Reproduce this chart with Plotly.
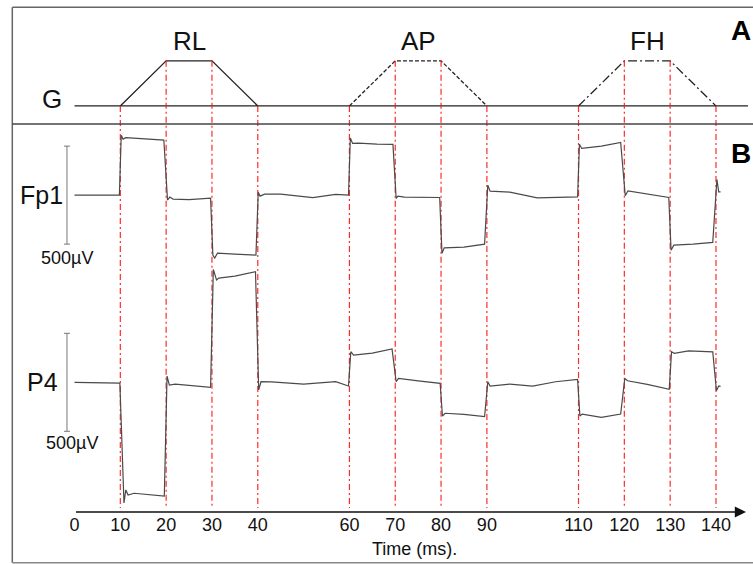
import plotly.graph_objects as go

# ---------------- data ----------------
TICK_VALUES = [0, 10, 20, 30, 40, 60, 70, 80, 90, 110, 120, 130, 140]
TICK_LABELS = ["0", "10", "20", "30", "40", "60", "70", "80", "90", "110", "120", "130", "140"]
AXIS_TITLE = "Time (ms)."

STIM_NAMES = ["RL", "AP", "FH"]
STIM_RAMP_START = [10, 60, 110]
STIM_PLATEAU_START = [20, 70, 120]
STIM_PLATEAU_END = [30, 80, 130]
STIM_RAMP_END = [40, 90, 140]
G_LINE_SPAN = [0, 147]

FP1_T = [0, 9.8, 10.2, 10.6, 11.2, 15, 19.5, 20.3, 20.8, 21.5, 25, 29.7, 30.2, 30.6, 31.2, 35, 39.6,
         40.1, 40.5, 41.5, 45, 52, 57, 59.8, 60.2, 60.7, 62, 66, 69.5, 70.2, 70.6, 72, 79.7, 80.2, 80.7,
         85, 89.5, 90.2, 90.7, 95, 101, 109.8, 110.2, 110.7, 115, 119.2, 120.2, 120.8, 125, 129.7, 130.2,
         130.8, 135, 139.3, 140.2, 140.6, 141]
FP1_UV = [0, 0, 306, 286, 293, 286, 281, -25, -10, -20, -23, -15, -306, -321, -296, -301, -306,
          15, -5, 5, 5, -13, 4, 0, 291, 264, 265, 260, 259, -17, -5, -10, -12, -296, -269,
          -265, -250, 51, 20, 15, -14, -9, 260, 238, 250, 269, -3, 22, 5, -12, -281,
          -255, -250, -241, 80, 17, 17]

P4_T = [0, 9.9, 10.8, 11.2, 11.7, 13, 19.6, 20.2, 20.7, 22, 29.7, 30.3, 31, 31.5, 35, 39.5, 40.2, 40.7,
        43, 50, 57, 59.8, 60.3, 60.9, 65, 69.3, 70.2, 70.7, 75, 79.8, 80.3, 80.9, 85, 89.5, 90.2, 90.7,
        95, 100, 105, 109.8, 110.3, 110.8, 115, 119.2, 120.1, 120.7, 125, 129.8, 130.3, 130.9, 134,
        139.3, 140.1, 140.6, 141]
P4_UV = [0, -4, -616, -549, -575, -566, -580, 32, -14, -9, -26, 576, 522, 532, 542, 564, -39, 3,
         2, -9, 3, -19, 156, 139, 149, 170, 3, 20, 7, -5, -172, -158, -164, -175, 3, -19,
         -9, -19, 3, 15, -172, -162, -179, -162, 20, 8, -11, -36, 156, 148, 160,
         155, -43, -19, -21]

SCALE_BAR_UV = 500
CHANNELS = ["Fp1", "P4"]

# ---------------- layout constants ----------------
W, H = 753, 564
ML, MR, MT, MB = 12, 0, 7, 52
X_RANGE = [-13.64, 148.08]
Y_RANGE = [-661.7, 1914.8]
FP1_OFFSET = 955
P4_OFFSET = 0
G_BASE = 1410
G_HEIGHT = 230
RED_BOTTOM = -641

FONT = "Liberation Sans, Arial, sans-serif"
TRACE_COLOR = "#4a4a4a"
LINE_COLOR = "#222222"

plot_w = W - ML - MR
plot_h = H - MT - MB


def pxx(p):
    return (p - ML) / plot_w


def pxy(p):
    return 1 - (p - MT) / plot_h


fig = go.Figure()

# G baseline
fig.add_trace(go.Scatter(x=G_LINE_SPAN, y=[G_BASE, G_BASE], mode="lines",
                         line=dict(color=LINE_COLOR, width=1.3), hoverinfo="skip"))

dashes = ["solid", "4px,2px", "9px,3px,2px,3px"]
red_x, red_y = [], []
for i, name in enumerate(STIM_NAMES):
    xs = [STIM_RAMP_START[i], STIM_PLATEAU_START[i], STIM_PLATEAU_END[i], STIM_RAMP_END[i]]
    lv = [0, 1, 1, 0]
    ys = [G_BASE + G_HEIGHT * v for v in lv]
    fig.add_trace(go.Scatter(x=xs, y=ys, mode="lines",
                             line=dict(color=LINE_COLOR, width=1.3, dash=dashes[i]),
                             hoverinfo="skip"))
    for xv, yv in zip(xs, ys):
        red_x += [xv, xv, None]
        red_y += [yv, RED_BOTTOM, None]
    fig.add_annotation(x=(STIM_PLATEAU_START[i] + STIM_PLATEAU_END[i]) / 2,
                       y=G_BASE + G_HEIGHT + 103, text=name, showarrow=False,
                       xanchor="center", yanchor="middle",
                       font=dict(family=FONT, size=26, color="#111"))

# red markers
fig.add_trace(go.Scatter(x=red_x, y=red_y, mode="lines",
                         line=dict(color="rgba(255,20,20,0.9)", width=1.2, dash="6px,3px,2px,3px"),
                         hoverinfo="skip"))

# EEG traces
fig.add_trace(go.Scatter(x=FP1_T, y=[v + FP1_OFFSET for v in FP1_UV], mode="lines",
                         line=dict(color=TRACE_COLOR, width=1.2), hoverinfo="skip"))
fig.add_trace(go.Scatter(x=P4_T, y=[v + P4_OFFSET for v in P4_UV], mode="lines",
                         line=dict(color=TRACE_COLOR, width=1.2), hoverinfo="skip"))

# scale bars
for off in [FP1_OFFSET, P4_OFFSET]:
    fig.add_trace(go.Scatter(x=[-1.64], y=[off], mode="markers",
                             marker=dict(size=1, color="rgba(0,0,0,0)"),
                             error_y=dict(type="constant", value=SCALE_BAR_UV / 2, color="#777",
                                          thickness=1, width=3),
                             hoverinfo="skip"))

fig.add_annotation(x=-1.64, y=FP1_OFFSET - 321, text=f"{SCALE_BAR_UV}µV", showarrow=False,
                   xanchor="center", yanchor="middle",
                   font=dict(family=FONT, size=18, color="#111"))
fig.add_annotation(x=-0.6, y=P4_OFFSET - 311, text=f"{SCALE_BAR_UV}µV", showarrow=False,
                   xanchor="center", yanchor="middle",
                   font=dict(family=FONT, size=18, color="#111"))

# channel labels
fig.add_annotation(x=-4.98, y=G_BASE + 36, text="G", showarrow=False,
                   xanchor="center", yanchor="middle",
                   font=dict(family=FONT, size=26, color="#111"))
fig.add_annotation(x=-7.16, y=FP1_OFFSET, text=CHANNELS[0], showarrow=False,
                   xanchor="center", yanchor="middle",
                   font=dict(family=FONT, size=25, color="#111"))
fig.add_annotation(x=-6.9, y=P4_OFFSET, text=CHANNELS[1], showarrow=False,
                   xanchor="center", yanchor="middle",
                   font=dict(family=FONT, size=25, color="#111"))

# panel letters
fig.add_annotation(xref="paper", yref="paper", x=pxx(741), y=pxy(30), text="<b>A</b>",
                   xanchor="center", yanchor="middle",
                   showarrow=False, font=dict(family=FONT, size=28, color="#000"))
fig.add_annotation(xref="paper", yref="paper", x=pxx(741), y=pxy(153), text="<b>B</b>",
                   xanchor="center", yanchor="middle",
                   showarrow=False, font=dict(family=FONT, size=28, color="#000"))

# time axis arrow
fig.add_annotation(x=146.55, y=0, xref="x", yref="paper", ax=0, ay=0, axref="x", ayref="pixel",
                   text="", showarrow=True, arrowhead=2, arrowsize=1.4, arrowwidth=1.6,
                   arrowcolor="#111")

# axis title (centred under the time axis as in the original)
fig.add_annotation(x=74.3, y=pxy(549), xref="x", yref="paper", text=AXIS_TITLE, showarrow=False,
                   xanchor="center", yanchor="middle",
                   font=dict(family=FONT, size=18, color="#111"))

# border and separator
shapes = [
    dict(type="line", xref="paper", yref="paper", x0=pxx(12.3), x1=pxx(753), y0=pxy(7.3), y1=pxy(7.3),
         line=dict(color="#666", width=1.5)),
    dict(type="line", xref="paper", yref="paper", x0=pxx(12.3), x1=pxx(12.3), y0=pxy(7.3), y1=pxy(562.7),
         line=dict(color="#666", width=1.5)),
    dict(type="line", xref="paper", yref="paper", x0=pxx(12.3), x1=pxx(753), y0=pxy(562.7), y1=pxy(562.7),
         line=dict(color="#888", width=1.5)),
    dict(type="line", xref="paper", yref="paper", x0=pxx(12.3), x1=pxx(753), y0=pxy(124), y1=pxy(124),
         line=dict(color="#444", width=1.6)),
]

fig.update_layout(
    width=W, height=H,
    margin=dict(l=ML, r=MR, t=MT, b=MB, pad=0),
    paper_bgcolor="white", plot_bgcolor="white",
    showlegend=False,
    hovermode=False,
    shapes=shapes,
    xaxis=dict(range=X_RANGE, tickmode="array", tickvals=TICK_VALUES, ticktext=TICK_LABELS,
               showgrid=False, zeroline=False, showline=False, ticks="",
               tickfont=dict(family=FONT, size=18, color="#111"),
               fixedrange=True),
    yaxis=dict(range=Y_RANGE, visible=False, fixedrange=True),
)

# remove the default page margin so the figure fills the 753x564 window exactly
fig.write_html("out.html", config={"displayModeBar": False},
               post_script="document.body.style.margin='0px';document.body.style.overflow='hidden';")
